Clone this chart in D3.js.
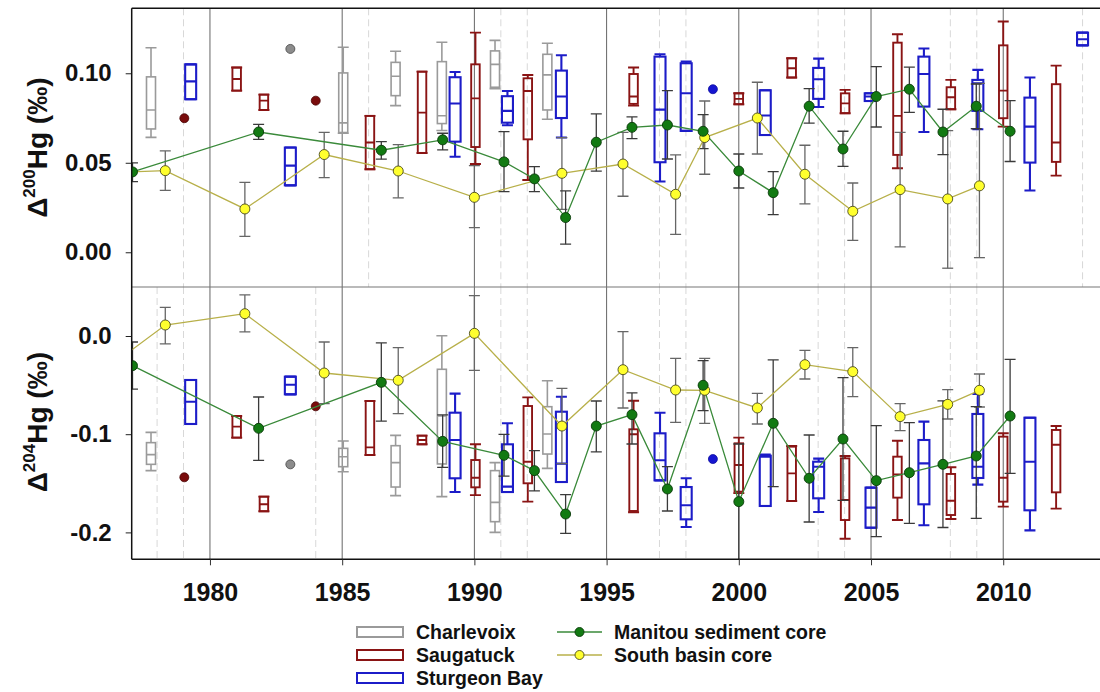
<!DOCTYPE html>
<html>
<head>
<meta charset="utf-8">
<script src="https://cdn.jsdelivr.net/npm/d3@7"></script>
<style>
body { margin: 0; background: #fff; }
svg text { font-family: "Liberation Sans", Arial, sans-serif; font-weight: bold; fill: #111; }
</style>
</head>
<body>
<div id="chart"></div>
<script>

// ---- data ----
var majorYears = [1980, 1985, 1990, 1995, 2000, 2005, 2010];
var minorYearsTop = [1979, 1986, 1991, 1992, 1997, 1998, 2003, 2004, 2008, 2009, 2013];
var minorYearsBottom = [1978, 1979, 1984, 1991, 1992, 1997, 1998, 2003, 2004, 2008, 2009];
var ticks200 = [0, 0.05, 0.10];
var ticks204 = [-0.2, -0.1, 0.0];

// Manitou sediment core: [value, low, high]
var manitouYears = [1977.07, 1981.84, 1986.48, 1988.8, 1991.12, 1992.27, 1993.45, 1994.61, 1995.96, 1997.3,
    1998.65, 2000.0, 2001.3, 2002.66, 2003.94, 2005.2, 2006.45, 2007.72, 2008.98, 2010.26];
var manitouD200 = [
    [0.0449, 0.0395, 0.050], [0.0672, 0.0631, 0.0715], [0.057, 0.052, 0.0618], [0.0628, 0.0572, 0.0665],
    [0.0505, 0.0339, 0.0674], [0.041, 0.0339, 0.0479], [0.0194, 0.0045, 0.0343], [0.0615, 0.0453, 0.0773],
    [0.0698, 0.0635, 0.0756], [0.0711, 0.0521, 0.0903], [0.0676, 0.0579, 0.0769], [0.0454, 0.0359, 0.0549],
    [0.0333, 0.021, 0.0451], [0.0816, 0.0721, 0.0914], [0.0577, 0.048, 0.0676], [0.087, 0.07, 0.1037],
    [0.0911, 0.0782, 0.1034], [0.0672, 0.0546, 0.0799], [0.0816, 0.069, 0.094], [0.0676, 0.0507, 0.0847]
];
var manitouD204 = [
    [-0.0302, -0.054, -0.0061], [-0.094, -0.1266, -0.0621], [-0.0472, -0.0866, -0.0071], [-0.1073, -0.1337, -0.0804],
    [-0.1215, -0.1426, -0.1001], [-0.1371, -0.1578, -0.1168], [-0.1813, -0.201, -0.1616], [-0.0917, -0.1181, -0.0662],
    [-0.0801, -0.11, -0.058], [-0.1558, -0.1782, -0.1331], [-0.0502, -0.076, -0.025], [-0.1687, -0.24, -0.11],
    [-0.0889, -0.1534, -0.0244], [-0.1449, -0.1894, -0.1008], [-0.1049, -0.1674, -0.0424], [-0.1473, -0.2043, -0.0913],
    [-0.1392, -0.1908, -0.0883], [-0.1307, -0.195, -0.066], [-0.1222, -0.1857, -0.072], [-0.0815, -0.1399, -0.0238]
];

// South basin core: [value, low, high]
var southYears = [1976.0, 1978.31, 1981.32, 1984.32, 1987.12, 1990.0, 1993.31, 1995.62, 1997.61, 1998.71,
    2000.7, 2002.5, 2004.31, 2006.1, 2007.9, 2009.1];
var southD200 = [
    [0.0444, 0.035, 0.054], [0.0456, 0.0346, 0.0566], [0.0242, 0.0089, 0.0391], [0.0546, 0.0417, 0.067],
    [0.0454, 0.0304, 0.0601], [0.0307, 0.0138, 0.0484], [0.0441, 0.024, 0.064], [0.0493, 0.0313, 0.067],
    [0.0324, 0.01, 0.0544], [0.0641, 0.0436, 0.0845], [0.075, 0.0549, 0.095], [0.0436, 0.027, 0.0598],
    [0.0229, 0.0067, 0.0387], [0.035, 0.003, 0.067], [0.0298, -0.0089, 0.068], [0.0371, -0.003, 0.0944]
];
var southD204 = [
    [-0.035, -0.05, -0.02], [0.0112, -0.0081, 0.0292], [0.0227, 0.0041, 0.0418], [-0.0377, -0.0689, -0.0061],
    [-0.0451, -0.0791, -0.0119], [0.0027, -0.035, 0.0411], [-0.0917, -0.13, -0.0533], [-0.0343, -0.0733, 0.0044],
    [-0.055, -0.0879, -0.0227], [-0.0553, -0.0889, -0.0227], [-0.0733, -0.0896, -0.0584], [-0.0292, -0.0438, -0.0146],
    [-0.0363, -0.0618, -0.0119], [-0.0821, -0.0964, -0.0689], [-0.0696, -0.0845, -0.0547], [-0.0553, -0.0723, -0.0387]
];

// box plots: [year, whiskerLow, q1, median, q3, whiskerHigh]
var charlevoixBox200 = [
    [1977.77, 0.0642, 0.0689, 0.0795, 0.098, 0.1143],
    [1985.04, 0.0665, 0.0669, 0.0723, 0.1002, 0.1145],
    [1987.02, 0.0819, 0.0875, 0.0983, 0.1061, 0.1123],
    [1988.77, 0.068, 0.0719, 0.0763, 0.1065, 0.1173],
    [1990.78, 0.0914, 0.0922, 0.105, 0.1125, 0.1184],
    [1992.76, 0.0743, 0.0795, 0.0991, 0.1106, 0.1168]
];
var charlevoixBox204 = [
    [1977.77, -0.1371, -0.1307, -0.1208, -0.1086, -0.0981],
    [1985.04, -0.1382, -0.1331, -0.1229, -0.1144, -0.1069],
    [1987.02, -0.1626, -0.1538, -0.129, -0.1117, -0.1012],
    [1988.77, -0.1636, -0.1303, -0.0815, -0.0339, 0.0003],
    [1990.78, -0.2, -0.1891, -0.1694, -0.1371, -0.129],
    [1992.76, -0.1348, -0.1202, -0.0998, -0.072, -0.0455]
];
var saugatuckBox200 = [
    [1981.01, 0.0903, 0.0903, 0.0968, 0.1032, 0.1032],
    [1982.04, 0.0795, 0.0795, 0.0847, 0.0881, 0.0881],
    [1986.05, 0.0464, 0.0464, 0.0613, 0.0762, 0.0762],
    [1988.02, 0.0555, 0.0555, 0.078, 0.1009, 0.1009],
    [1990.04, 0.0493, 0.0588, 0.086, 0.105, 0.1227],
    [1992.02, 0.0404, 0.0631, 0.0901, 0.0972, 0.099],
    [1996.02, 0.0819, 0.0829, 0.087, 0.0996, 0.1032],
    [2000.0, 0.0827, 0.0827, 0.0857, 0.0888, 0.0888],
    [2002.0, 0.0976, 0.0976, 0.1028, 0.1084, 0.1084],
    [2004.02, 0.0777, 0.0777, 0.0832, 0.0888, 0.0907],
    [2006.0, 0.0469, 0.0544, 0.0762, 0.1171, 0.1218],
    [2008.02, 0.0799, 0.0799, 0.0866, 0.0922, 0.0963],
    [2010.0, 0.0702, 0.0749, 0.0903, 0.1156, 0.1289],
    [2012.0, 0.0428, 0.0505, 0.0613, 0.0939, 0.1043]
];
var saugatuckBox204 = [
    [1981.01, -0.1035, -0.1035, -0.0923, -0.0815, -0.0815],
    [1982.04, -0.1785, -0.1785, -0.1714, -0.1636, -0.1636],
    [1986.05, -0.1212, -0.1212, -0.1134, -0.0662, -0.0662],
    [1988.02, -0.1103, -0.1103, -0.1059, -0.1015, -0.1015],
    [1990.04, -0.162, -0.1541, -0.1443, -0.1263, -0.1103],
    [1992.02, -0.1687, -0.15, -0.128, -0.0713, -0.0625],
    [1996.02, -0.1795, -0.1782, -0.1, -0.095, -0.0659],
    [2000.0, -0.16, -0.1585, -0.1314, -0.1093, -0.1035],
    [2002.0, -0.168, -0.168, -0.1399, -0.1127, -0.112],
    [2004.02, -0.2064, -0.1874, -0.167, -0.1246, -0.1222],
    [2006.0, -0.1874, -0.1646, -0.1409, -0.1229, -0.1066],
    [2008.02, -0.1864, -0.1823, -0.1677, -0.1405, -0.1337],
    [2010.0, -0.1738, -0.1687, -0.1443, -0.1025, -0.0991],
    [2012.0, -0.1758, -0.1592, -0.1107, -0.0957, -0.0917]
];
var sturgeonBox200 = [
    [1979.27, 0.0855, 0.0855, 0.0955, 0.105, 0.105],
    [1983.04, 0.0374, 0.0374, 0.0484, 0.0585, 0.0585],
    [1989.27, 0.0534, 0.0618, 0.0831, 0.0978, 0.1007],
    [1991.25, 0.071, 0.0724, 0.079, 0.0872, 0.0901],
    [1993.29, 0.0641, 0.075, 0.087, 0.1015, 0.1101],
    [1997.02, 0.0395, 0.0503, 0.0797, 0.1093, 0.1106],
    [1998.01, 0.0678, 0.0678, 0.0888, 0.1056, 0.1065],
    [2001.0, 0.0655, 0.0655, 0.0764, 0.0905, 0.0905],
    [2003.02, 0.0812, 0.0857, 0.0967, 0.103, 0.1082],
    [2004.97, 0.0845, 0.0845, 0.087, 0.0888, 0.0888],
    [2007.0, 0.0672, 0.0814, 0.0996, 0.1093, 0.1138],
    [2009.04, 0.0687, 0.079, 0.0944, 0.0963, 0.1019],
    [2011.01, 0.0345, 0.0501, 0.0702, 0.0864, 0.0976],
    [2013.0, 0.1156, 0.1156, 0.119, 0.1227, 0.1227]
];
var sturgeonBox204 = [
    [1979.27, -0.0896, -0.0896, -0.0669, -0.0448, -0.0448],
    [1983.04, -0.0594, -0.0594, -0.0496, -0.0414, -0.0414],
    [1989.27, -0.1589, -0.1449, -0.1059, -0.0781, -0.0587],
    [1991.25, -0.1589, -0.1589, -0.1534, -0.1103, -0.0889],
    [1993.29, -0.1487, -0.1487, -0.13, -0.0771, -0.0618],
    [1997.02, -0.147, -0.147, -0.1266, -0.0991, -0.0781],
    [1998.01, -0.1945, -0.1867, -0.1724, -0.1538, -0.1449],
    [2001.0, -0.1731, -0.1731, -0.1229, -0.1219, -0.1208],
    [2003.02, -0.1792, -0.1653, -0.1331, -0.128, -0.1249],
    [2005.0, -0.1952, -0.1952, -0.1748, -0.1544, -0.1544],
    [2007.0, -0.1928, -0.1714, -0.1297, -0.1059, -0.0872],
    [2009.04, -0.1514, -0.1446, -0.1331, -0.0794, -0.0591],
    [2011.01, -0.1979, -0.1775, -0.128, -0.0832, -0.0832]
];

// single samples: [year, d200, d204]
var charlevoixDots = [[1983.04, 0.1136, -0.1307]];
var saugatuckDots = [[1979.03, 0.0749, -0.1439], [1984.0, 0.0847, -0.0716]];
var sturgeonDots = [[1999.02, 0.0911, -0.1253]];

var boxLegend = ["Charlevoix", "Saugatuck", "Sturgeon Bay"];
var lineLegend = ["Manitou sediment core", "South basin core"];

// ---- layout ----
var width = 1100;
var height = 692;
var left = 131.7, right = 1109;
var topY = 8.3, midY = 287, bottomY = 559.3;

var colGray = "#9a9a9a", colRed = "#8a1414", colBlue = "#1c1cc8";
var colGreenLine = "#3a8a3a", colYellowLine = "#b8b04a";

var svg = d3.select("#chart").append("svg")
    .attr("width", width)
    .attr("height", height);

svg.append("rect").attr("width", width).attr("height", height).attr("fill", "white");

var x = d3.scaleLinear().domain([1977.04, 2014]).range([left, right]);
var yTop = d3.scaleLinear().domain([-0.0194, 0.1363]).range([midY, topY]);
var yBot = d3.scaleLinear().domain([-0.2274, 0.0499]).range([bottomY, midY]);

var panels = [
    { y: yTop, y0: topY, y1: midY, col: 1, ticks: ticks200, fmt: d => d.toFixed(2), mass: "200", minor: minorYearsTop,
      charlevoix: charlevoixBox200, saugatuck: saugatuckBox200, sturgeon: sturgeonBox200,
      manitou: manitouD200, south: southD200 },
    { y: yBot, y0: midY, y1: bottomY, col: 2, ticks: ticks204, fmt: d => d.toFixed(1), mass: "204", minor: minorYearsBottom,
      charlevoix: charlevoixBox204, saugatuck: saugatuckBox204, sturgeon: sturgeonBox204,
      manitou: manitouD204, south: southD204 }
];

var defs = svg.append("defs");

panels.forEach((p, pi) => {
    defs.append("clipPath").attr("id", "clip" + pi)
        .append("rect").attr("x", left).attr("y", p.y0).attr("width", right - left).attr("height", p.y1 - p.y0);

    var g = svg.append("g").attr("clip-path", "url(#clip" + pi + ")");
    var y = p.y;

    // minor dashed grid
    g.selectAll(".minor").data(p.minor).enter().append("line")
        .attr("x1", d => x(d)).attr("x2", d => x(d))
        .attr("y1", p.y0).attr("y2", p.y1)
        .attr("stroke", "#d8d8d8").attr("stroke-width", 1)
        .attr("stroke-dasharray", "7,4");

    // major grid
    g.selectAll(".major").data(majorYears).enter().append("line")
        .attr("x1", d => x(d)).attr("x2", d => x(d))
        .attr("y1", p.y0).attr("y2", p.y1)
        .attr("stroke", "#666").attr("stroke-width", 1);

    // box plots
    function drawBoxes(data, color, w, sw) {
        var bg = g.append("g").attr("stroke", color).attr("stroke-width", sw).attr("fill", "none");
        var cap = 11;
        data.forEach(b => {
            var cx = x(b[0]);
            bg.append("line").attr("x1", cx).attr("x2", cx).attr("y1", y(b[1])).attr("y2", y(b[2]));
            bg.append("line").attr("x1", cx).attr("x2", cx).attr("y1", y(b[4])).attr("y2", y(b[5]));
            bg.append("line").attr("x1", cx - cap / 2).attr("x2", cx + cap / 2).attr("y1", y(b[1])).attr("y2", y(b[1]));
            bg.append("line").attr("x1", cx - cap / 2).attr("x2", cx + cap / 2).attr("y1", y(b[5])).attr("y2", y(b[5]));
            bg.append("rect").attr("x", cx - w / 2).attr("width", w)
                .attr("y", y(b[4])).attr("height", y(b[2]) - y(b[4]));
            bg.append("line").attr("x1", cx - w / 2).attr("x2", cx + w / 2).attr("y1", y(b[3])).attr("y2", y(b[3]));
        });
    }
    drawBoxes(p.charlevoix, colGray, 9, 1.6);
    drawBoxes(p.saugatuck, colRed, 8.5, 1.9);
    drawBoxes(p.sturgeon, colBlue, 11, 2.1);

    // single samples
    function drawDots(data, fill, stroke) {
        g.selectAll(null).data(data).enter().append("circle")
            .attr("cx", d => x(d[0])).attr("cy", d => y(d[p.col]))
            .attr("r", 4.5).attr("fill", fill).attr("stroke", stroke).attr("stroke-width", 0.8);
    }
    drawDots(charlevoixDots, "#8c8c8c", "#444");
    drawDots(saugatuckDots, "#7a0c0c", "#4a0606");
    drawDots(sturgeonDots, "#1515d0", "#1010a0");

    // core series
    var manitou = manitouYears.map((yr, i) => [yr].concat(p.manitou[i]));
    var south = southYears.map((yr, i) => [yr].concat(p.south[i]));

    function drawErr(data, color) {
        var eg = g.append("g").attr("stroke", color).attr("stroke-width", 1.3);
        data.forEach(d => {
            var cx = x(d[0]);
            eg.append("line").attr("x1", cx).attr("x2", cx).attr("y1", y(d[2])).attr("y2", y(d[3]));
            eg.append("line").attr("x1", cx - 5.5).attr("x2", cx + 5.5).attr("y1", y(d[2])).attr("y2", y(d[2]));
            eg.append("line").attr("x1", cx - 5.5).attr("x2", cx + 5.5).attr("y1", y(d[3])).attr("y2", y(d[3]));
        });
    }
    drawErr(south, "#666");
    drawErr(manitou, "#3a3a3a");

    var line = d3.line().x(d => x(d[0])).y(d => y(d[1]));
    g.append("path").datum(south).attr("d", line)
        .attr("fill", "none").attr("stroke", colYellowLine).attr("stroke-width", 1.3);
    g.append("path").datum(manitou).attr("d", line)
        .attr("fill", "none").attr("stroke", colGreenLine).attr("stroke-width", 1.3);

    g.selectAll(null).data(south).enter().append("circle")
        .attr("cx", d => x(d[0])).attr("cy", d => y(d[1])).attr("r", 5)
        .attr("fill", "#ffff2e").attr("stroke", "#4a4a20").attr("stroke-width", 0.9);
    g.selectAll(null).data(manitou).enter().append("circle")
        .attr("cx", d => x(d[0])).attr("cy", d => y(d[1])).attr("r", 5)
        .attr("fill", "#127a12").attr("stroke", "#0a3a0a").attr("stroke-width", 0.9);

    // y axis
    var ax = svg.append("g").attr("transform", "translate(" + left + ",0)")
        .call(d3.axisLeft(y).tickValues(p.ticks).tickFormat(p.fmt).tickSize(6).tickPadding(14));
    ax.select(".domain").remove();
    ax.selectAll("line").attr("stroke", "#222");
    ax.selectAll("text").attr("font-size", 24).attr("fill", "#111")
        .attr("font-family", '"Liberation Sans", Arial, sans-serif').attr("font-weight", "bold");

    // axis title
    var cy = (p.y0 + p.y1) / 2 + (pi === 0 ? 0 : -1);
    var t = svg.append("text")
        .attr("transform", "translate(47," + cy + ") rotate(-90)")
        .attr("text-anchor", "middle").attr("font-size", 28);
    t.append("tspan").text("\u0394");
    t.append("tspan").attr("font-size", 17).attr("dy", "-0.72em").text(p.mass);
    t.append("tspan").attr("dy", "0.44em").text("Hg (\u2030)");
});

// frame
svg.append("line").attr("x1", left).attr("x2", width).attr("y1", topY).attr("y2", topY)
    .attr("stroke", "#111").attr("stroke-width", 1.5);
svg.append("line").attr("x1", left).attr("x2", width).attr("y1", midY).attr("y2", midY)
    .attr("stroke", "#777").attr("stroke-width", 1.2);
svg.append("line").attr("x1", left).attr("x2", width).attr("y1", bottomY).attr("y2", bottomY)
    .attr("stroke", "#111").attr("stroke-width", 1.5);
svg.append("line").attr("x1", left).attr("x2", left).attr("y1", topY).attr("y2", bottomY)
    .attr("stroke", "#111").attr("stroke-width", 1.5);

// x axis
var xa = svg.append("g").attr("transform", "translate(0," + bottomY + ")")
    .call(d3.axisBottom(x).tickValues(majorYears).tickFormat(d3.format("d")).tickSize(6).tickPadding(18));
xa.select(".domain").remove();
xa.selectAll("line").attr("stroke", "#333");
xa.selectAll("text").attr("font-size", 25).attr("fill", "#111")
    .attr("font-family", '"Liberation Sans", Arial, sans-serif').attr("font-weight", "bold");

// legend
var legBoxColors = [colGray, colRed, colBlue];
var leg1 = svg.append("g");
leg1.selectAll("rect").data(boxLegend).enter().append("rect")
    .attr("x", 357).attr("y", (d, i) => 627 + i * 23).attr("width", 46).attr("height", 10)
    .attr("fill", "white").attr("stroke", (d, i) => legBoxColors[i]).attr("stroke-width", 2);
leg1.selectAll("text").data(boxLegend).enter().append("text")
    .attr("x", 416).attr("y", (d, i) => 639 + i * 23).attr("font-size", 19.5).text(d => d);

var legLineColors = [colGreenLine, colYellowLine];
var legFill = ["#127a12", "#ffff2e"];
var legStroke = ["#0a3a0a", "#4a4a20"];
var leg2 = svg.append("g");
leg2.selectAll("line").data(lineLegend).enter().append("line")
    .attr("x1", 557).attr("x2", 602).attr("y1", (d, i) => 632 + i * 23).attr("y2", (d, i) => 632 + i * 23)
    .attr("stroke", (d, i) => legLineColors[i]).attr("stroke-width", 1.5);
leg2.selectAll("circle").data(lineLegend).enter().append("circle")
    .attr("cx", 579.5).attr("cy", (d, i) => 632 + i * 23).attr("r", 4.5)
    .attr("fill", (d, i) => legFill[i]).attr("stroke", (d, i) => legStroke[i]).attr("stroke-width", 0.9);
leg2.selectAll("text").data(lineLegend).enter().append("text")
    .attr("x", 614).attr("y", (d, i) => 639 + i * 23).attr("font-size", 19.5).text(d => d);

</script>
</body>
</html>
